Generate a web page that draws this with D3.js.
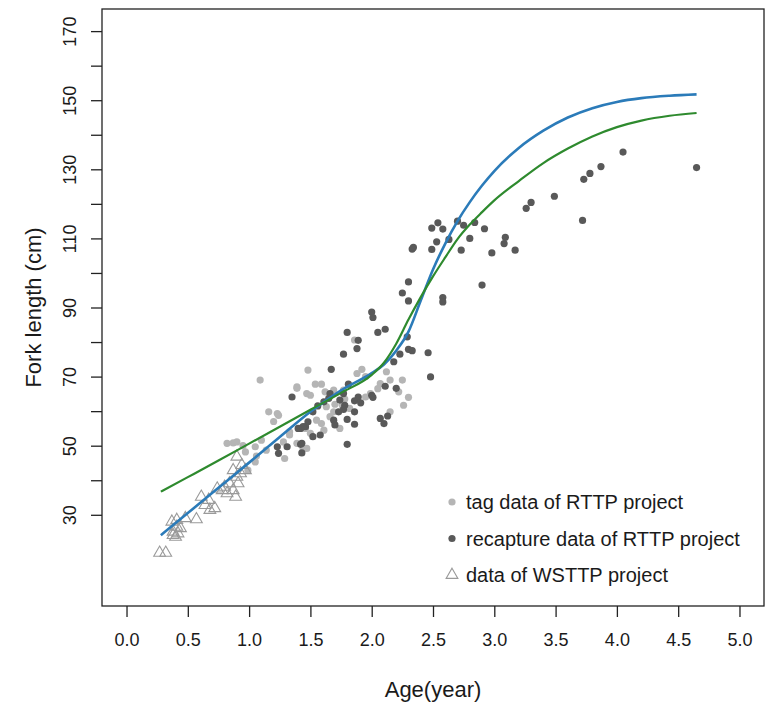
<!DOCTYPE html>
<html>
<head>
<meta charset="utf-8">
<script src="https://cdn.jsdelivr.net/npm/d3@7"></script>
<style>
  body { margin: 0; background: #fff; }
  text { font-family: "Liberation Sans", Arial, sans-serif; fill: #1a1a1a; }
</style>
</head>
<body>
<div id="chart"></div>
<script>
// Set H/W/M
const svgWidth = 765;
const svgHeight = 709;

const margin = { top: 9, right: 1, bottom: 103, left: 102 };
const width = svgWidth - margin.left - margin.right;
const height = svgHeight - margin.top - margin.bottom;

// tick values
const xTicks = [0, 0.5, 1, 1.5, 2, 2.5, 3, 3.5, 4, 4.5, 5];
const yTicks = [30, 40, 50, 60, 70, 80, 90, 100, 110, 120, 130, 140, 150, 160, 170];
const yLabels = [30, 50, 70, 90, 110, 130, 150, 170];

// WSTTP project (triangles)
const wsttpAge = [0.27, 0.32, 0.37, 0.41, 0.38, 0.42, 0.40, 0.44, 0.48, 0.57, 0.61, 0.64, 0.68, 0.72, 0.67,
  0.74, 0.78, 0.80, 0.82, 0.84, 0.87, 0.89, 0.91, 0.90, 0.93, 0.97, 0.90, 0.94, 0.87, 0.41, 0.38];
const wsttpLen = [19, 19, 28, 26.5, 25.1, 24.6, 23.6, 26.1, 29, 28.7, 35.2, 32.8, 31.4, 31.9, 34.3,
  37.6, 37.1, 38.1, 36.2, 39.1, 37.1, 35.2, 39.1, 41, 42, 42.9, 46.8, 44.4, 42.9, 28.5, 24.1];

// tag data of RTTP project (light dots)
const tagAge = [0.82, 0.87, 0.90, 0.97, 1.05, 1.05, 1.10, 1.16, 1.23, 1.14, 1.28, 1.29, 1.33, 1.39, 1.09,
  1.47, 1.44, 1.48, 1.39, 1.54, 1.59, 1.50, 1.62, 1.69, 1.77, 1.92, 1.88, 1.86, 2.12, 2.07,
  2.15, 2.25, 2.22, 2.30, 2.26, 2.15, 1.95, 1.99, 1.82, 1.69, 1.66, 1.59, 1.61, 1.55, 1.46,
  1.74, 1.63, 1.76, 1.47, 1.33, 1.39, 1.50, 1.24, 0.99, 1.06, 1.20, 0.95, 1.78, 1.70, 2.05, 1.95];
const tagLen = [50.7, 50.8, 51.1, 48.2, 45.3, 49.7, 51.6, 59.8, 59.3, 48.7, 51.1, 46.3, 54.0, 67.0, 69.0,
  65.1, 49.2, 71.9, 66.6, 67.8, 67.8, 64.6, 65.6, 66.1, 66.1, 72.1, 70.9, 80.6, 71.4, 68.0,
  69.0, 69.0, 65.6, 64.0, 61.7, 59.8, 64.1, 65.1, 60.8, 59.8, 58.4, 56.4, 54.5, 57.4, 55.0,
  55.0, 61.3, 61.7, 49.2, 53.1, 50.7, 53.6, 58.8, 42.9, 47.0, 57.0, 50.0, 63.5, 62.0, 66.5, 70.0];

// recapture data of RTTP project (dark dots)
const recapAge = [1.35, 1.23, 1.24, 1.31, 1.43, 1.43, 1.42, 1.46, 2.30, 2.25, 2.30, 2.58, 2.58, 2.00, 2.01,
  1.80, 2.05, 2.11, 1.89, 1.88, 1.77, 1.67, 2.29, 2.30, 2.33, 2.23, 2.18, 2.46, 2.48, 2.11,
  2.20, 2.00, 2.01, 1.89, 1.86, 1.91, 1.77, 1.74, 1.78, 1.77, 1.73, 1.81, 1.66, 1.65, 1.61,
  1.56, 1.52, 1.69, 1.70, 1.86, 1.86, 1.80, 2.07, 2.10, 2.13, 1.80, 1.48, 1.44, 1.40, 1.52,
  1.58, 1.42, 2.90, 2.34, 2.33, 2.49, 2.54, 2.58, 2.49, 2.53, 2.73, 2.75, 2.70, 2.80, 2.92,
  2.98, 3.08, 3.09, 3.17, 3.26, 3.30, 3.49, 2.63, 2.84, 3.72, 3.73, 3.78, 3.87, 4.05, 4.65];
const recapLen = [64.1, 49.7, 47.8, 49.7, 50.7, 47.9, 55.0, 55.5, 97.4, 94.2, 91.9, 92.9, 91.6, 88.7, 87.1,
  82.8, 82.8, 83.7, 80.5, 78.1, 76.5, 72.1, 81.5, 77.9, 77.5, 76.5, 74.3, 76.9, 69.9, 67.2,
  66.6, 64.6, 64.0, 64.1, 63.0, 62.4, 65.1, 63.2, 61.7, 60.5, 59.8, 67.8, 65.1, 63.7, 62.7,
  61.5, 59.8, 57.4, 56.0, 59.8, 56.2, 57.6, 57.9, 56.4, 58.6, 50.4, 56.9, 55.5, 55.0, 52.6,
  53.1, 50.4, 96.5, 107.4, 106.9, 113.0, 114.5, 112.7, 106.8, 109.0, 106.6, 113.8, 115.0, 110.0, 112.8,
  105.8, 108.5, 110.3, 106.6, 118.7, 120.4, 122.2, 109.7, 114.6, 115.2, 127.1, 128.8, 130.8, 135.0, 130.5];

// fitted growth curves
const curveAge = [0.28, 0.5, 0.75, 1.0, 1.25, 1.5, 1.75, 2.0, 2.1, 2.2, 2.3, 2.4, 2.5, 2.6, 2.7,
  2.8, 2.9, 3.0, 3.2, 3.4, 3.6, 3.8, 4.0, 4.2, 4.43, 4.65];
const blueLen = [24.1, 30.5, 37.8, 45.1, 52.5, 59.8, 66, 71, 73.5, 77.5, 83, 92, 101, 108.5, 115,
  120.5, 125.3, 129.5, 136.2, 141.2, 145, 147.7, 149.5, 150.6, 151.3, 151.7];
const greenLen = [36.7, 40.9, 45.7, 50.6, 55.5, 60.4, 65.3, 70.5, 74, 79.5, 86.5, 93, 99, 104.5, 109.8,
  114, 117.6, 121, 126.6, 131.8, 136, 139.5, 142.2, 144.1, 145.5, 146.3];

const lightGrey = "#b5b5b5";
const darkGrey = "#595959";
const triGrey = "#9a9a9a";

const svg = d3.select("#chart")
  .append("svg")
  .attr("width", svgWidth)
  .attr("height", svgHeight);

const chartGroup = svg.append("g")
  .attr("transform", `translate(${margin.left}, ${margin.top})`);

// R style: limits padded by 4%
const xScale = d3.scaleLinear().domain([-0.2, 5.2]).range([0, width]);
const yScale = d3.scaleLinear().domain([3.6, 176.4]).range([height, 0]);

// x axis
const xAxis = chartGroup.append("g")
  .attr("transform", `translate(0, ${height})`)
  .call(d3.axisBottom(xScale).tickValues(xTicks).tickFormat(d3.format(".1f")).tickSize(11).tickPadding(16));
xAxis.select(".domain").remove();
xAxis.selectAll("line").attr("stroke", "#222").attr("stroke-width", 1.3);
xAxis.selectAll("text").style("font-size", "18px").attr("fill", "#222");

// y axis, labels turned like R's las = 0
const yAxis = chartGroup.append("g")
  .call(d3.axisLeft(yScale).tickValues(yTicks).tickSize(11).tickFormat(d => yLabels.includes(d) ? d : ""));
yAxis.select(".domain").remove();
yAxis.selectAll("line").attr("stroke", "#222").attr("stroke-width", 1.3);
yAxis.selectAll(".tick text")
  .style("font-size", "18px")
  .attr("fill", "#222")
  .attr("transform", "rotate(-90)")
  .attr("x", 0)
  .attr("y", -32)
  .attr("dy", "0.35em")
  .attr("text-anchor", "middle");

// box
chartGroup.append("rect")
  .attr("width", width)
  .attr("height", height)
  .attr("fill", "none")
  .attr("stroke", "#222")
  .attr("stroke-width", 1.3);

// light dots
chartGroup.append("g").selectAll("circle")
  .data(d3.zip(tagAge, tagLen))
  .enter()
  .append("circle")
  .attr("cx", d => xScale(d[0]))
  .attr("cy", d => yScale(d[1]))
  .attr("r", 3.6)
  .attr("fill", lightGrey);

// dark dots
chartGroup.append("g").selectAll("circle")
  .data(d3.zip(recapAge, recapLen))
  .enter()
  .append("circle")
  .attr("cx", d => xScale(d[0]))
  .attr("cy", d => yScale(d[1]))
  .attr("r", 3.6)
  .attr("fill", darkGrey);

// triangles
const tri = d3.symbol().type(d3.symbolTriangle).size(60);
chartGroup.append("g").selectAll("path")
  .data(d3.zip(wsttpAge, wsttpLen))
  .enter()
  .append("path")
  .attr("d", tri)
  .attr("transform", d => `translate(${xScale(d[0])}, ${yScale(d[1])})`)
  .attr("fill", "none")
  .attr("stroke", triGrey)
  .attr("stroke-width", 1.1);

// growth curves
const line = d3.line()
  .x(d => xScale(d[0]))
  .y(d => yScale(d[1]))
  .curve(d3.curveMonotoneX);

chartGroup.append("path")
  .datum(d3.zip(curveAge, blueLen))
  .attr("d", line)
  .attr("fill", "none")
  .attr("stroke", "#2b7bb9")
  .attr("stroke-width", 2.6);

chartGroup.append("path")
  .datum(d3.zip(curveAge, greenLen))
  .attr("d", line)
  .attr("fill", "none")
  .attr("stroke", "#2e8a2e")
  .attr("stroke-width", 2.2);

// legend
const legendItems = ["tag data of RTTP project", "recapture data of RTTP project", "data of WSTTP project"];
const legend = svg.append("g").attr("transform", "translate(452, 502)");
legendItems.forEach((name, i) => {
  const row = legend.append("g").attr("transform", `translate(0, ${i * 36.5})`);
  if (i < 2) {
    row.append("circle").attr("r", 3.6).attr("fill", i === 0 ? lightGrey : darkGrey);
  } else {
    row.append("path").attr("d", tri).attr("fill", "none").attr("stroke", triGrey).attr("stroke-width", 1.1);
  }
  row.append("text")
    .attr("x", 14)
    .attr("dy", "0.35em")
    .style("font-size", "20px")
    .text(name);
});

// axis titles
svg.append("text")
  .attr("x", margin.left + width / 2)
  .attr("y", 697)
  .attr("text-anchor", "middle")
  .style("font-size", "22px")
  .text("Age(year)");

svg.append("text")
  .attr("transform", `translate(33, ${margin.top + height / 2}) rotate(-90)`)
  .attr("text-anchor", "middle")
  .attr("dy", "0.35em")
  .style("font-size", "22px")
  .text("Fork length (cm)");
</script>
</body>
</html>
